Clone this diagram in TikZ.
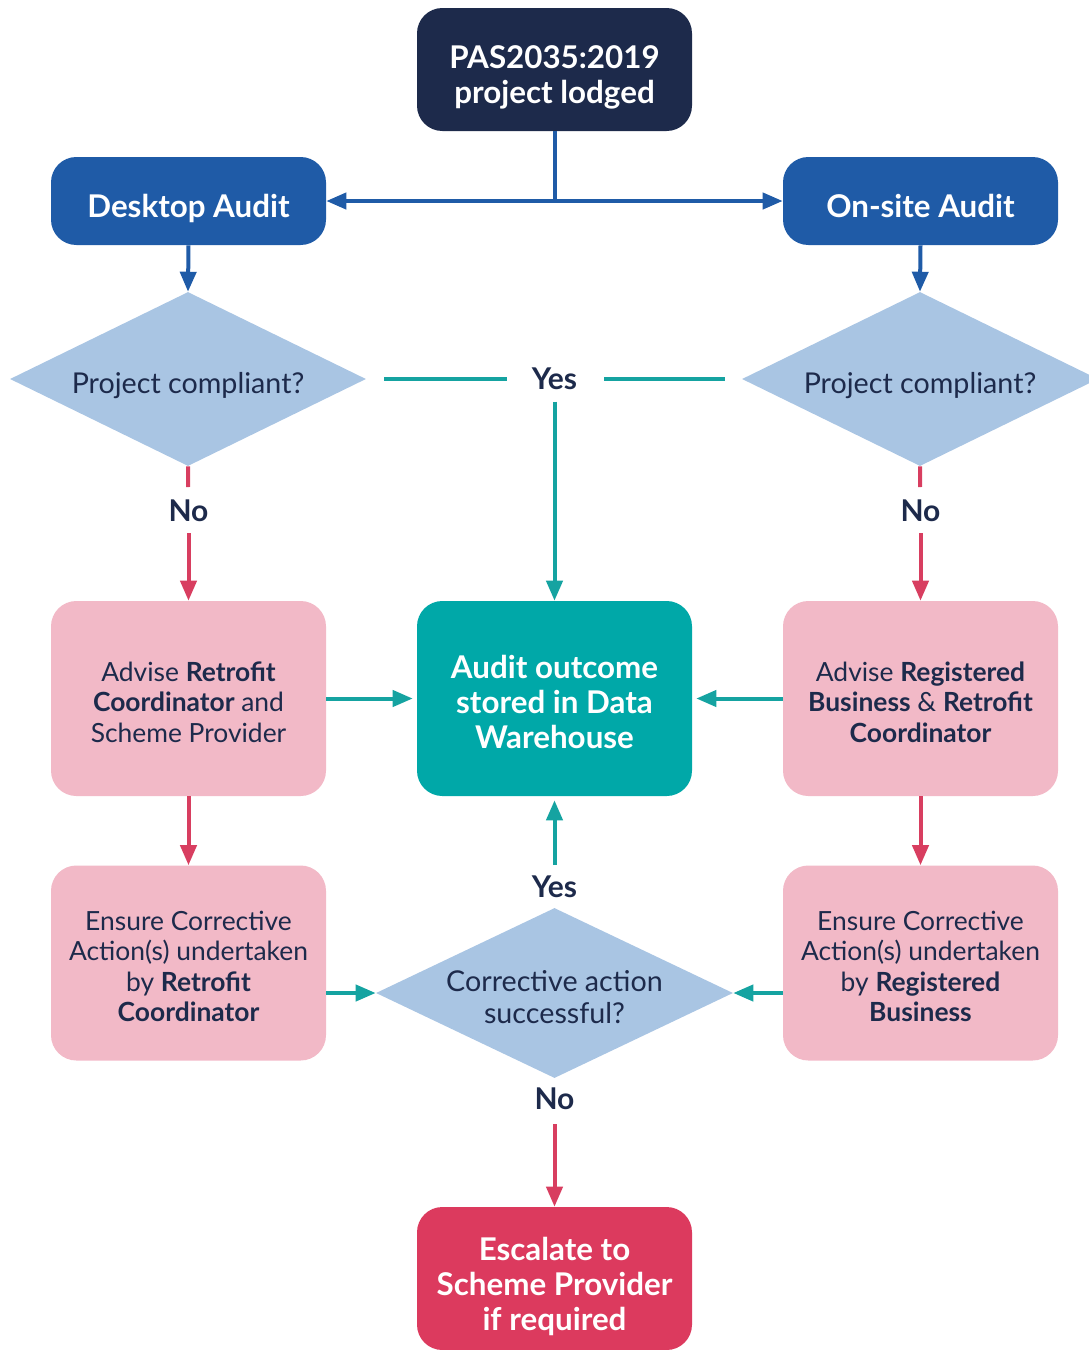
\documentclass[tikz,border=0pt]{standalone}
\usepackage{fontspec}
\setmainfont{Lato}
\usetikzlibrary{shapes.geometric,arrows.meta}
\definecolor{navy}{HTML}{1D2A4B}
\definecolor{bluebox}{HTML}{1F5BA7}
\definecolor{pinkbox}{HTML}{F2B9C7}
\definecolor{tealbox}{HTML}{00A8A8}
\definecolor{tealline}{HTML}{15A3A1}
\definecolor{redline}{HTML}{D83E60}
\definecolor{redbox}{HTML}{DC3A5E}
\definecolor{diam}{HTML}{A9C5E3}
\newcommand\bx[2]{\raisebox{-#1}[\height][\depth]{\begin{tabular}{@{}c@{}}#2\end{tabular}}}
\tikzset{
  box/.style={rounded corners=19pt, minimum width=206.25pt, inner sep=0pt},
  boldtxt/.style={font=\fontsize{23.5}{26.3}\selectfont\bfseries, text=white},
  pinktxt/.style={font=\fontsize{19.8}{22.9}\selectfont, text=navy, fill=pinkbox},
  dia/.style={diamond, fill=diam, inner sep=0pt, font=\fontsize{21.5}{24}\selectfont, text=navy},
  lab/.style={font=\fontsize{22.5}{24}\selectfont\bfseries, text=navy, inner sep=0pt},
  tip/.style={-{Triangle[length=15pt,width=12pt]}},
  bl/.style={draw=bluebox, line width=3pt},
  tl/.style={draw=tealline, line width=3pt},
  rl/.style={draw=redline, line width=3pt},
}
\begin{document}
\begin{tikzpicture}[x=0.75pt,y=-0.75pt]
\useasboundingbox (0,0) rectangle (1089,1350);
\clip (0,0) rectangle (1089,1350);
% nodes
\node[box, boldtxt, fill=navy, minimum height=92.25pt] (top) at (554.5,69.5) {\bx{7.2pt}{PAS2035:2019\\project lodged}};
\node[box, boldtxt, fill=bluebox, minimum height=66pt] (desk) at (188.5,201) {\bx{7.2pt}{Desktop Audit}};
\node[box, boldtxt, fill=bluebox, minimum height=66pt] (onsite) at (920.5,201) {\bx{7.2pt}{On-site Audit}};
\node[dia, shape aspect=2.05, minimum width=267pt, minimum height=130.5pt] (d1) at (188,379) {\bx{6.2pt}{Project compliant?}};
\node[dia, shape aspect=2.05, minimum width=267pt, minimum height=130.5pt] (d2) at (920,379) {\bx{6.2pt}{Project compliant?}};
\node[lab] (yes1) at (554.5,379) {Yes};
\node[lab] (no1) at (188.5,511) {No};
\node[lab] (no2) at (920.5,511) {No};
\node[box, pinktxt, minimum height=146.25pt] (adv1) at (188.5,698.5) {\bx{5.3pt}{Advise \textbf{Retrofit}\\\textbf{Coordinator} and\\Scheme Provider}};
\node[box, boldtxt, fill=tealbox, minimum height=146.25pt] (out) at (554.5,698.5) {\bx{6pt}{Audit outcome\\stored in Data\\Warehouse}};
\node[box, pinktxt, minimum height=146.25pt] (adv2) at (920.5,698.5) {\bx{5.3pt}{Advise \textbf{Registered}\\\textbf{Business} \& \textbf{Retrofit}\\\textbf{Coordinator}}};
\node[box, pinktxt, minimum height=146.25pt] (ens1) at (188.5,963) {\bx{5.3pt}{Ensure Corrective\\Action(s) undertaken\\by \textbf{Retrofit}\\\textbf{Coordinator}}};
\node[box, pinktxt, minimum height=146.25pt] (ens2) at (920.5,963) {\bx{5.3pt}{Ensure Corrective\\Action(s) undertaken\\by \textbf{Registered}\\\textbf{Business}}};
\node[dia, shape aspect=2.1, minimum width=267.75pt, minimum height=127.5pt] (d3) at (554.5,993) {\bx{6pt}{Corrective action\\successful?}};
\node[lab] (yes3) at (554.5,887) {Yes};
\node[lab] (no3) at (554.5,1099) {No};
\node[box, boldtxt, fill=redbox, minimum height=107.25pt] (esc) at (554.5,1278.5) {\bx{7.5pt}{Escalate to\\Scheme Provider\\if required}};
% connectors
\coordinate (split) at (554.5,201);
\draw[bl] (top.south) -- (split);
\draw[bl, tip] (split) -- (desk.east);
\draw[bl, tip] (split) -- (onsite.west);
\draw[bl, tip] (desk.south) -- (d1.north);
\draw[bl, tip] (onsite.south) -- (d2.north);
\draw[tl, shorten <=13.5pt, shorten >=36pt] (d1.east) -- (yes1.center);
\draw[tl, shorten <=12.75pt, shorten >=36.75pt] (d2.west) -- (yes1.center);
\draw[tl, tip, shorten <=17pt] (yes1.center) -- (out.north);
\draw[rl, shorten >=18pt] (d1.south) -- (no1.center);
\draw[rl, tip, shorten <=16.5pt] (no1.center) -- (adv1.north);
\draw[rl, shorten >=18pt] (d2.south) -- (no2.center);
\draw[rl, tip, shorten <=16.5pt] (no2.center) -- (adv2.north);
\draw[tl, tip, shorten >=3pt] (adv1.east) -- (out.west);
\draw[tl, tip, shorten >=3pt] (adv2.west) -- (out.east);
\draw[rl, tip] (adv1.south) -- (ens1.north);
\draw[rl, tip] (adv2.south) -- (ens2.north);
\draw[tl, tip] (d3.west -| ens1.east) -- (d3.west);
\draw[tl, tip] (d3.east -| ens2.west) -- (d3.east);
\draw[tl, tip, shorten <=16.5pt, shorten >=3pt] (yes3.center) -- (out.south);
\draw[rl, tip, shorten <=19pt] (no3.center) -- (esc.north);
\end{tikzpicture}
\end{document}
